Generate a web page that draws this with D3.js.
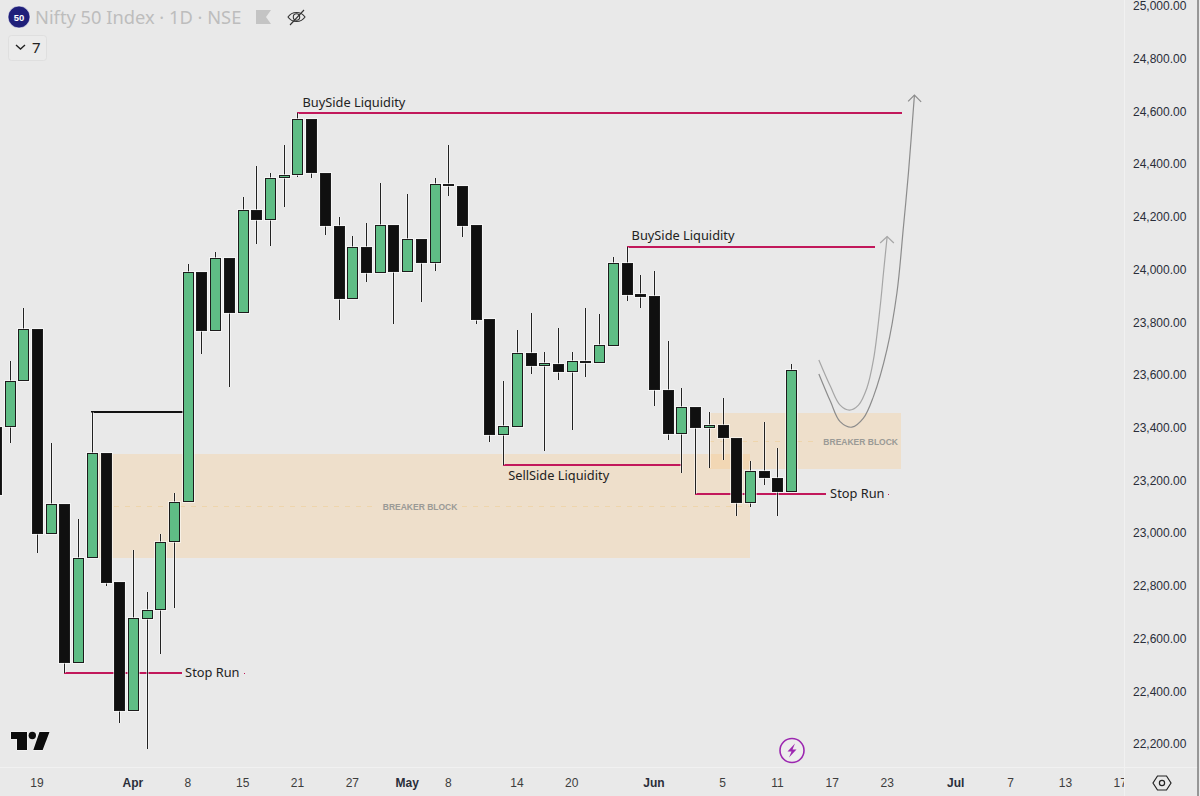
<!DOCTYPE html>
<html>
<head>
<meta charset="utf-8">
<title>Nifty 50 Index</title>
<script src="https://cdn.jsdelivr.net/npm/d3@7"></script>
<style>
  html, body { margin: 0; padding: 0; background: #e9e9e9; overflow: hidden; }
  svg { display: block; font-family: "Liberation Sans", Arial, sans-serif; }
</style>
</head>
<body>
<div id="chart"></div>
<script>
// daily candles, the first one is cut off by the left edge
var opens = [23402, 23402, 23576, 23774, 22997, 23110, 22509, 22906, 23303, 22815, 22327,
  22674, 22709, 22965, 23117, 23992, 23768, 24045, 23836, 24225, 24188, 24346, 24359, 24570,
  24368, 24167, 23890, 24085, 23987, 24169, 23991, 24115, 24024, 24325, 24317, 24169, 23811,
  23372, 23404, 23684, 23635, 23643, 23613, 23654, 23646, 23711, 24025, 23907, 23900, 23544,
  23376, 23478, 23398, 23409, 23362, 23116, 23236, 23211, 23157];
var highs = [23402, 23653, 23855, 23774, 23341, 23110, 23053, 23460, 23303, 22815, 22936,
  22777, 22997, 23151, 24020, 23992, 24066, 24045, 24274, 24393, 24365, 24473, 24595, 24570,
  24368, 24200, 24127, 24176, 24330, 24169, 24287, 24115, 24347, 24473, 24317, 24169, 23811,
  23577, 23771, 23834, 23688, 23778, 23686, 23855, 23830, 24048, 24086, 23978, 23996, 23729,
  23552, 23478, 23459, 23512, 23362, 23274, 23422, 23322, 23642];
var lows = [23145, 23342, 23576, 22926, 22997, 22471, 22509, 22906, 22801, 22281, 22327,
  22181, 22542, 22715, 23117, 23680, 23768, 23553, 23836, 24097, 24091, 24236, 24350, 24346,
  24131, 23809, 23890, 23953, 23987, 23794, 23991, 23878, 23994, 24279, 24124, 23794, 23345,
  23259, 23404, 23605, 23313, 23582, 23393, 23594, 23646, 23711, 23882, 23853, 23483, 23354,
  23227, 23149, 23246, 23278, 23066, 23100, 23182, 23066, 23157];
var closes = [23145, 23576, 23774, 22997, 23110, 22509, 22906, 23303, 22812, 22327, 22677,
  22710, 22965, 23117, 23992, 23768, 24045, 23836, 24225, 24188, 24346, 24359, 24570, 24368,
  24164, 23890, 24085, 23987, 24169, 23991, 24115, 24024, 24325, 24317, 24167, 23809, 23372,
  23407, 23684, 23635, 23645, 23613, 23654, 23646, 23713, 24025, 23905, 23897, 23542, 23376,
  23478, 23398, 23409, 23360, 23116, 23236, 23208, 23157, 23618];

var priceTicks = [25000, 24800, 24600, 24400, 24200, 24000, 23800, 23600, 23400, 23200, 23000, 22800, 22600, 22400, 22200];
var timeLabels = ["19", "Apr", "8", "15", "21", "27", "May", "8", "14", "20", "Jun", "5", "11", "17", "23", "Jul", "7", "13", "17"];
var timeBars = [3, 10, 14, 18, 22, 26, 30, 33, 38, 42, 48, 53, 57, 61, 65, 70, 74, 78, 82];
var monthLabels = ["Apr", "May", "Jun", "Jul"];

// drawings, in bar number and price
var zoneBars = [[7, 55], [52, 66]];
var zonePrices = [[23299, 22907], [23455, 23245]];
var zoneMids = [23103, 23350];
var zoneDashes = [[[7, 27.8], [34, 55]], [[52, 60]]];
var zoneLabelBars = [30.94, 63.07];

var levelBars = [[22, 66.05], [46, 64.12], [37, 50.05], [4.97, 13.55], [51, 60.55]];
var levelPrices = [24595, 24086, 23260, 22471, 23149];
var levelNames = ["BuySide Liquidity", "BuySide Liquidity", "SellSide Liquidity", "Stop Run", "Stop Run"];
var blackLevelBars = [6.94, 13.65];
var blackLevelPrice = 23460;
var stopDotBars = [18.07, 65.07];
var stopDotPrices = [22471, 23149];

var innerCurve = [[60.02, 23657], [60.87, 23556], [61.57, 23486], [62.25, 23467], [62.91, 23486], [63.52, 23550],
  [64, 23657], [64.49, 23859], [64.73, 23986], [65, 24125]];
var outerCurve = [[60.02, 23604], [60.87, 23499], [61.57, 23423], [62.43, 23402], [63.27, 23436], [64, 23518],
  [64.98, 23695], [65.71, 23910], [66.19, 24163], [66.55, 24365], [66.99, 24662]];
var innerHead = [[64.49, 24101], [65, 24125], [65.49, 24101]];
var outerHead = [[66.53, 24638], [66.99, 24662], [67.48, 24636]];

var width = 1200, height = 796;
var plotRight = 1124, plotBottom = 767;
var green = "#5fbd85", black = "#101010", pink = "#c2185b";

var x = d3.scaleLinear().domain([0, 82.2]).range([-4.2, plotRight - 1]);
var y = d3.scaleLinear().domain([22200, 25000]).range([744, 6]);
function px(v) { return Math.round(x(v)); }
function py(v) { return Math.round(y(v)); }

var svg = d3.select("#chart").append("svg")
  .attr("width", width)
  .attr("height", height)
  .style("background", "#e9e9e9");

svg.append("clipPath").attr("id", "plot").append("rect")
  .attr("width", plotRight).attr("height", plotBottom);
svg.append("clipPath").attr("id", "timeClip").append("rect")
  .attr("width", plotRight).attr("height", height);

var plot = svg.append("g").attr("clip-path", "url(#plot)");

// breaker blocks
plot.selectAll(".zone").data(zoneBars).enter().append("rect")
  .attr("class", "zone")
  .attr("x", function(d) { return px(d[0]); })
  .attr("width", function(d) { return px(d[1]) - px(d[0]); })
  .attr("y", function(d, i) { return py(zonePrices[i][0]); })
  .attr("height", function(d, i) { return py(zonePrices[i][1]) - py(zonePrices[i][0]); })
  .attr("fill", "rgba(255,190,105,0.23)");

zoneDashes.forEach(function(parts, i) {
  parts.forEach(function(p) {
    plot.append("line")
      .attr("x1", px(p[0])).attr("x2", px(p[1]))
      .attr("y1", py(zoneMids[i]) + 0.5).attr("y2", py(zoneMids[i]) + 0.5)
      .attr("stroke", "#eed5ac")
      .attr("stroke-dasharray", "5 6");
  });
  plot.append("text")
    .attr("x", x(zoneLabelBars[i]))
    .attr("y", py(zoneMids[i]) + 3.5)
    .attr("text-anchor", "middle")
    .attr("font-size", 8.5)
    .attr("font-weight", "bold")
    .attr("fill", "#9a9a96")
    .text("BREAKER BLOCK");
});

// levels go under the candles
plot.selectAll(".level").data(levelBars).enter().append("line")
  .attr("class", "level")
  .attr("x1", function(d) { return px(d[0]); })
  .attr("x2", function(d) { return px(d[1]); })
  .attr("y1", function(d, i) { return py(levelPrices[i]); })
  .attr("y2", function(d, i) { return py(levelPrices[i]); })
  .attr("stroke", pink)
  .attr("stroke-width", 2);

plot.append("line")
  .attr("x1", px(blackLevelBars[0])).attr("x2", px(blackLevelBars[1]))
  .attr("y1", py(blackLevelPrice)).attr("y2", py(blackLevelPrice))
  .attr("stroke", "#111")
  .attr("stroke-width", 2);

plot.selectAll(".stopDot").data(stopDotBars).enter().append("rect")
  .attr("class", "stopDot")
  .attr("x", function(d) { return px(d); })
  .attr("y", function(d, i) { return py(stopDotPrices[i]); })
  .attr("width", 1).attr("height", 1)
  .attr("fill", pink);

// candles
var candle = plot.selectAll(".candle").data(opens).enter().append("g")
  .attr("class", "candle")
  .attr("transform", function(d, i) { return "translate(" + px(i) + ",0)"; });

candle.append("line")
  .attr("x1", 0.5).attr("x2", 0.5)
  .attr("y1", function(d, i) { return py(highs[i]); })
  .attr("y2", function(d, i) { return py(lows[i]); })
  .attr("stroke", "#fff").attr("stroke-opacity", 0.45).attr("stroke-width", 3);
candle.append("line")
  .attr("x1", 0.5).attr("x2", 0.5)
  .attr("y1", function(d, i) { return py(highs[i]); })
  .attr("y2", function(d, i) { return py(lows[i]); })
  .attr("stroke", "#222");

function bodyTop(i) { return py(Math.max(opens[i], closes[i])); }
function bodyHeight(i) { return Math.max(1, py(Math.min(opens[i], closes[i])) - bodyTop(i)); }

candle.append("rect")
  .attr("x", -5.5).attr("width", 12)
  .attr("y", function(d, i) { return bodyTop(i) - 0.5; })
  .attr("height", function(d, i) { return bodyHeight(i) + 1; })
  .attr("fill", "none")
  .attr("stroke", "#fff").attr("stroke-opacity", 0.55);
candle.append("rect")
  .attr("x", -4.5).attr("width", 10)
  .attr("y", function(d, i) { return bodyTop(i) + 0.5; })
  .attr("height", function(d, i) { return bodyHeight(i) - 1 > 0 ? bodyHeight(i) - 1 : 1; })
  .attr("fill", function(d, i) { return closes[i] >= opens[i] ? green : black; })
  .attr("stroke", "#1c1c1c");

// projected paths
var curve = d3.line()
  .x(function(d) { return x(d[0]); })
  .y(function(d) { return y(d[1]); })
  .curve(d3.curveCatmullRom.alpha(0.5));
var head = d3.line()
  .x(function(d) { return x(d[0]); })
  .y(function(d) { return y(d[1]); });

[[innerCurve, innerHead, "#a6a6a6"], [outerCurve, outerHead, "#8c8c8c"]].forEach(function(p) {
  plot.append("path").attr("d", curve(p[0])).attr("fill", "none").attr("stroke", p[2]).attr("stroke-width", 1.2);
  plot.append("path").attr("d", head(p[1])).attr("fill", "none").attr("stroke", p[2]).attr("stroke-width", 1.2);
});

// level names
var nameOffsets = [[5, -6], [5, -7], [5, 15], [3.5, 4], [4, 4]];
plot.selectAll(".levelName").data(levelNames).enter().append("text")
  .attr("class", "levelName")
  .attr("x", function(d, i) {
    var along = i > 2 ? levelBars[i][1] : levelBars[i][0];
    return x(along) + nameOffsets[i][0];
  })
  .attr("y", function(d, i) { return y(levelPrices[i]) + nameOffsets[i][1]; })
  .attr("font-family", "'Noto Sans', sans-serif")
  .attr("font-size", 12.8)
  .attr("fill", "#222")
  .text(function(d) { return d; });

// price axis
var priceAxis = d3.axisRight(y)
  .tickValues(priceTicks)
  .tickSize(0)
  .tickPadding(0)
  .tickFormat(d3.format(",.2f"));
svg.append("g")
  .attr("transform", "translate(1133,0)")
  .call(priceAxis)
  .call(function(g) { g.select(".domain").remove(); })
  .selectAll("text")
  .attr("font-family", "'Liberation Sans', Arial, sans-serif")
  .attr("font-size", 12)
  .attr("fill", "#2a2e39");

// time axis
var timeAxis = d3.axisBottom(x)
  .tickValues(timeBars)
  .tickSize(0)
  .tickPadding(0)
  .tickFormat(function(d) { return timeLabels[timeBars.indexOf(d)]; });
svg.append("g")
  .attr("clip-path", "url(#timeClip)")
  .append("g")
  .attr("transform", "translate(-0.5,778)")
  .call(timeAxis)
  .call(function(g) { g.select(".domain").remove(); })
  .selectAll("text")
  .attr("font-family", "'Liberation Sans', Arial, sans-serif")
  .attr("font-size", 12)
  .attr("font-weight", function(d, i) { return monthLabels.indexOf(timeLabels[i]) >= 0 ? "bold" : "normal"; })
  .attr("fill", function(d, i) { return monthLabels.indexOf(timeLabels[i]) >= 0 ? "#2a2e39" : "#3d3d3d"; });

// panel borders
svg.append("line").attr("x1", plotRight + 0.5).attr("x2", plotRight + 0.5).attr("y1", 0).attr("y2", height).attr("stroke", "#f1f1f1");
svg.append("line").attr("x1", 0).attr("x2", 1198).attr("y1", plotBottom + 0.5).attr("y2", plotBottom + 0.5).attr("stroke", "#f1f1f1");
svg.append("line").attr("x1", 1198).attr("x2", 1198).attr("y1", 0).attr("y2", height).attr("stroke", "#444").attr("stroke-width", 1);

// header
svg.append("circle").attr("cx", 19).attr("cy", 17).attr("r", 11).attr("fill", "#1f1f7a").attr("stroke", "#fff").attr("stroke-opacity", 0.6);
svg.append("text").attr("x", 19).attr("y", 20.5).attr("text-anchor", "middle")
  .attr("font-size", 9.5).attr("font-weight", "bold").attr("fill", "#fff").text("50");
svg.append("text").attr("x", 35).attr("y", 24)
  .attr("font-family", "'Noto Sans', sans-serif")
  .attr("font-size", 18.3).attr("fill", "#bdbdbd").text("Nifty 50 Index · 1D · NSE");
svg.append("path").attr("d", "M256 10H271L266 17L271 24H256Z").attr("fill", "#c4c4c4");

var eye = svg.append("g").attr("fill", "none").attr("stroke", "#333").attr("stroke-width", 1.1);
eye.append("path").attr("d", "M288 17C292 11 301 11 305 17C301 23 292 23 288 17Z");
eye.append("circle").attr("cx", 296.5).attr("cy", 17).attr("r", 3.2);
eye.append("path").attr("d", "M290 25L304 10");

svg.append("rect").attr("x", 8.5).attr("y", 35.5).attr("width", 38).attr("height", 25).attr("rx", 3)
  .attr("fill", "#ebebeb").attr("stroke", "#dfdfdf");
svg.append("path").attr("d", "M16 45L20.5 49L25 45").attr("fill", "none").attr("stroke", "#222").attr("stroke-width", 1.4);
svg.append("text").attr("x", 32).attr("y", 53).attr("font-family", "'Noto Sans', sans-serif")
  .attr("font-size", 15).attr("fill", "#222").text("7");

// tradingview mark
var logo = svg.append("g").attr("fill", "#0d0d0d").attr("stroke", "#fff").attr("stroke-width", 0.8).attr("paint-order", "stroke");
logo.append("path").attr("d", "M11 732H27V750H17V739H11Z");
logo.append("circle").attr("cx", 32.3).attr("cy", 735.5).attr("r", 3.7);
logo.append("path").attr("d", "M39.5 732H49.5L42.7 750H33.3Z");

// lightning badge
svg.append("circle").attr("cx", 792).attr("cy", 750.5).attr("r", 12)
  .attr("fill", "#ededed").attr("stroke", "#9c27b0").attr("stroke-width", 1.6);
svg.append("path").attr("d", "M795 743.5L787.5 751.5H791.5L789 757.5L796.5 749.5H792.5Z").attr("fill", "#9c27b0");

// settings hexagon
svg.append("path").attr("d", "M1157.5 776H1166.5L1171 783L1166.5 790H1157.5L1153 783Z").attr("fill", "none").attr("stroke", "#222").attr("stroke-width", 1.2);
svg.append("circle").attr("cx", 1162).attr("cy", 783).attr("r", 2.6).attr("fill", "none").attr("stroke", "#222").attr("stroke-width", 1.2);
</script>
</body>
</html>
